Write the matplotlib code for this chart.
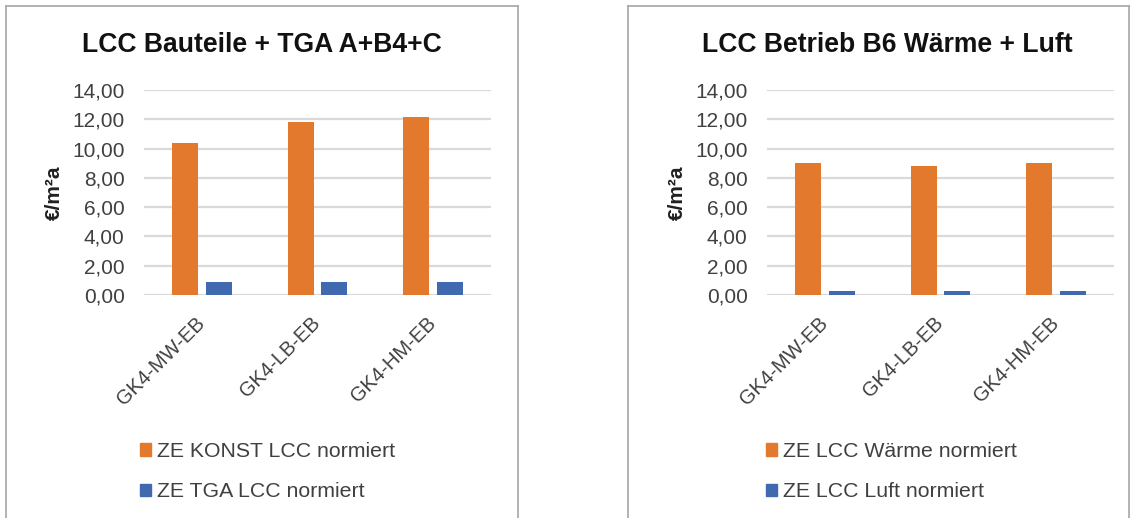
import matplotlib.pyplot as plt
from matplotlib.lines import Line2D
from matplotlib.patches import Patch
from matplotlib.ticker import FuncFormatter
import numpy as np

plt.rcParams['font.family'] = ['Liberation Sans', 'DejaVu Sans']

categories = ['GK4-MW-EB', 'GK4-LB-EB', 'GK4-HM-EB']

left_title = 'LCC Bauteile + TGA A+B4+C'
left_names = ['ZE KONST LCC normiert', 'ZE TGA LCC normiert']
left_konst = [10.40, 11.79, 12.13]
left_tga = [0.92, 0.92, 0.92]

right_title = 'LCC Betrieb B6 Wärme + Luft'
right_names = ['ZE LCC Wärme normiert', 'ZE LCC Luft normiert']
right_waerme = [9.00, 8.83, 9.00]
right_luft = [0.29, 0.29, 0.29]

yticks = [0, 2, 4, 6, 8, 10, 12, 14]

orange = '#E2792C'
blue = '#4169AF'
W, H = 1130, 518

fig = plt.figure(figsize=(W / 100, H / 100), dpi=100)
fig.patch.set_facecolor('white')


def panel(x0, x1, title, title_x, s1, s2, names, leg_x):
    ax = fig.add_axes([x0 / W, 1 - 295 / H, (x1 - x0) / W, 205 / H])
    x = np.arange(len(categories))
    ax.bar(x - 0.145, s1, 0.225, color=orange, zorder=3)
    ax.bar(x + 0.145, s2, 0.225, color=blue, zorder=3)
    ax.set_xlim(-0.5, len(categories) - 0.5)
    ax.set_ylim(0, 14)
    ax.set_yticks(yticks)
    ax.yaxis.set_major_formatter(FuncFormatter(lambda v, p: f'{v:.2f}'.replace('.', ',')))
    ax.grid(axis='y', color='#D9D9D9', linewidth=1.6, zorder=0)
    ax.tick_params(length=0, labelsize=15, labelcolor='#404040')
    ax.tick_params(axis='y', pad=14)
    for s in ax.spines.values():
        s.set_visible(False)
    ax.set_xticks(x)
    ax.set_xticklabels(categories, rotation=45, ha='right', va='center',
                       rotation_mode='anchor', fontsize=14.5)
    ax.tick_params(axis='x', pad=18)
    ax.set_ylabel('€/m²a', fontsize=15, fontweight='bold', color='#202020')
    ax.yaxis.set_label_coords(-80 / (x1 - x0), 0.5)
    fig.text(title_x / W, 1 - 45 / H, title, fontsize=19.1, fontweight='bold',
             ha='center', va='center', color='#111111')
    handles = [Patch(color=orange), Patch(color=blue)]
    fig.legend(handles, names, loc='upper left',
               bbox_to_anchor=(leg_x / W, 1 - 442 / H), frameon=False,
               fontsize=15.3, handlelength=0.5, handleheight=0.5,
               handletextpad=0.3, labelspacing=1.0, borderpad=0,
               borderaxespad=0, labelcolor='#404040')
    return ax


panel(144, 491, left_title, 262, left_konst, left_tga, left_names, 140)
panel(767, 1114, right_title, 887, right_waerme, right_luft, right_names, 766)

# panel borders
border = '#A6A6A6'
for xa, xb in [(6, 518), (628, 1129)]:
    fig.add_artist(Line2D([xa / W, xa / W], [0, 1 - 6 / H], color=border, lw=1.2))
    fig.add_artist(Line2D([xb / W, xb / W], [0, 1 - 6 / H], color=border, lw=1.2))
    fig.add_artist(Line2D([xa / W, xb / W], [1 - 6 / H, 1 - 6 / H], color=border, lw=1.2))

fig.savefig('out.png', dpi=100)
